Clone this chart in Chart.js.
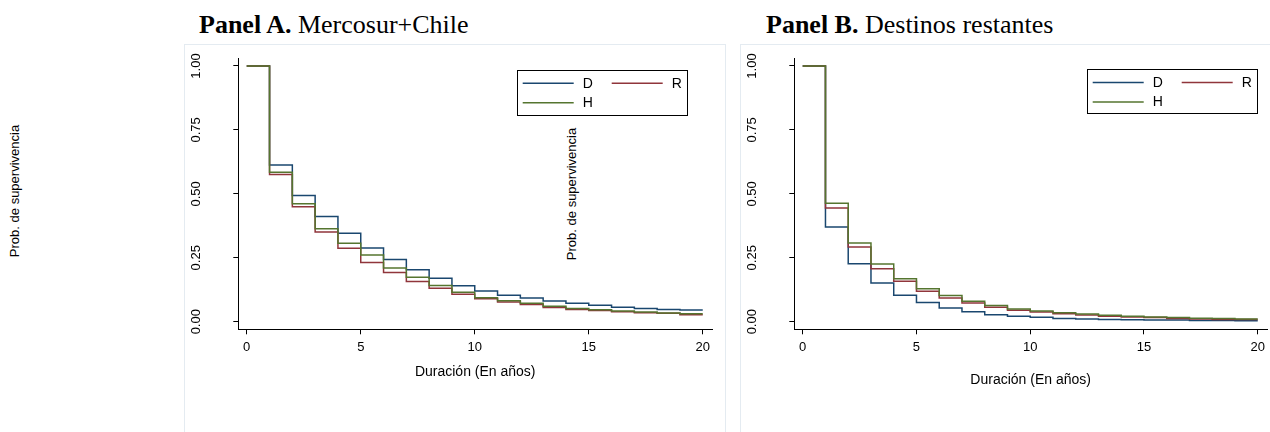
<!DOCTYPE html>
<html>
<head>
<meta charset="utf-8">
<script src="https://cdn.jsdelivr.net/npm/chart.js@4.4.1/dist/chart.umd.min.js"></script>
<style>
  html, body { margin: 0; padding: 0; background: #fff; width: 1270px; height: 432px; overflow: hidden; }
  .frame { position: absolute; border: 1px solid #e4ebf1; box-sizing: border-box; }
  canvas { position: absolute; }
  .ttl { position: absolute; font-family: "Liberation Serif", "Times New Roman", serif; font-size: 26px;
         line-height: 26px; white-space: nowrap; color: #000; }
  .ytitle { position: absolute; font-family: "Liberation Sans", Arial, sans-serif; font-size: 13px;
            line-height: 13px; white-space: nowrap; color: #000;
            transform: translate(-50%, -50%) rotate(-90deg); }
</style>
</head>
<body>
<div class="frame" style="left:184px;top:44px;width:542px;height:400px"></div>
<div class="frame" style="left:740px;top:44px;width:580px;height:400px"></div>

<div class="ttl" id="titleA" style="left:199px;top:12px"></div>
<div class="ttl" id="titleB" style="left:766px;top:12px"></div>

<div class="ytitle" id="ytitleA" style="left:14px;top:191px"></div>
<div class="ytitle" id="ytitleB" style="left:570.5px;top:193.5px"></div>

<canvas id="chartA" width="542" height="388" style="left:184px;top:44px;width:542px;height:388px"></canvas>
<canvas id="chartB" width="529" height="388" style="left:741px;top:44px;width:529px;height:388px"></canvas>

<script>
// Kaplan-Meier survival of export spells, by duration in years (0..20)
const durations = [0, 1, 2, 3, 4, 5, 6, 7, 8, 9, 10, 11, 12, 13, 14, 15, 16, 17, 18, 19, 20];

const seriesNames  = ['D', 'R', 'H'];
const seriesColors = ['#1a476f', '#90353b', '#55752f'];
const drawOrder    = [2, 1, 0];   // H painted last (on top)

// Panel A: Mercosur+Chile
const mercosurD = [1, 0.613, 0.494, 0.411, 0.346, 0.288, 0.243, 0.203, 0.170, 0.141, 0.120,
                   0.103, 0.093, 0.081, 0.072, 0.064, 0.057, 0.052, 0.048, 0.046, 0.046];
const mercosurR = [1, 0.576, 0.450, 0.351, 0.287, 0.232, 0.192, 0.157, 0.131, 0.107, 0.090,
                   0.077, 0.067, 0.056, 0.048, 0.044, 0.039, 0.035, 0.033, 0.027, 0.027];
const mercosurH = [1, 0.584, 0.461, 0.364, 0.307, 0.261, 0.210, 0.174, 0.142, 0.115, 0.094,
                   0.082, 0.072, 0.060, 0.052, 0.047, 0.042, 0.038, 0.034, 0.031, 0.031];

// Panel B: Destinos restantes
const restoD = [1, 0.370, 0.227, 0.151, 0.103, 0.075, 0.054, 0.039, 0.027, 0.021, 0.017,
                0.013, 0.011, 0.009, 0.008, 0.007, 0.007, 0.005, 0.005, 0.004, 0.004];
const restoR = [1, 0.445, 0.292, 0.207, 0.158, 0.119, 0.093, 0.073, 0.057, 0.045, 0.038,
                0.031, 0.026, 0.021, 0.018, 0.016, 0.013, 0.011, 0.009, 0.009, 0.009];
const restoH = [1, 0.463, 0.308, 0.226, 0.168, 0.129, 0.102, 0.080, 0.063, 0.050, 0.042,
                0.035, 0.030, 0.025, 0.021, 0.018, 0.016, 0.014, 0.013, 0.011, 0.011];

const xTickValues = [0, 5, 10, 15, 20];
const yTickValues = [0, 0.25, 0.5, 0.75, 1];
const yTickLabels = ['0.00', '0.25', '0.50', '0.75', '1.00'];

const xTitle = 'Duración (En años)';
const yTitle = 'Prob. de supervivencia';
const titleA = ['Panel A.', 'Mercosur+Chile'];
const titleB = ['Panel B.', 'Destinos restantes'];

// ---- page text ----
function setTitle(id, parts) {
  const el = document.getElementById(id);
  const b = document.createElement('b');
  b.textContent = parts[0];
  el.appendChild(b);
  el.appendChild(document.createTextNode(' ' + parts[1]));
}
setTitle('titleA', titleA);
setTitle('titleB', titleB);
document.getElementById('ytitleA').textContent = yTitle;
document.getElementById('ytitleB').textContent = yTitle;

// ---- chart setup ----
const SANS = "'Liberation Sans', Arial, sans-serif";
Chart.defaults.font.family = SANS;
Chart.defaults.color = '#000';

// y tick labels, written upright along the axis
const rotatedYLabels = {
  id: 'rotatedYLabels',
  afterDraw(chart) {
    const s = chart.scales.y, ctx = chart.ctx;
    ctx.save();
    ctx.fillStyle = '#000';
    ctx.font = '13px ' + SANS;
    ctx.textAlign = 'center';
    ctx.textBaseline = 'alphabetic';
    yTickValues.forEach((v, i) => {
      const py = s.getPixelForValue(v);
      ctx.save();
      ctx.translate(s.right - 38.3, py);
      ctx.rotate(-Math.PI / 2);
      ctx.fillText(yTickLabels[i], 0, 0);
      ctx.restore();
    });
    ctx.restore();
  }
};

// boxed two-column legend
const boxLegend = {
  id: 'boxLegend',
  afterDraw(chart, args, opts) {
    const ctx = chart.ctx;
    const x = opts.left, y = opts.top;
    ctx.save();
    ctx.strokeStyle = '#000';
    ctx.lineWidth = 1;
    ctx.strokeRect(Math.round(x) + 0.5, Math.round(y) + 0.5, opts.width, opts.height);
    ctx.font = '14px ' + SANS;
    ctx.textBaseline = 'middle';
    ctx.textAlign = 'left';
    chart.data.datasets.forEach((ds, i) => {
      const col = i % 2, row = Math.floor(i / 2);
      const lx = x + 6 + col * 89;
      const ly = y + 13.3 + row * 19.4;
      ctx.strokeStyle = ds.borderColor;
      ctx.lineWidth = 1.5;
      ctx.beginPath();
      ctx.moveTo(lx, ly);
      ctx.lineTo(lx + 51, ly);
      ctx.stroke();
      ctx.fillStyle = '#000';
      ctx.fillText(ds.label, lx + 60, ly + 0.5);
    });
    ctx.restore();
  }
};

function makeChart(id, values, yAxisWidth, rightPad, titleGap, legendPos) {
  const datasets = seriesNames.map((name, i) => ({
    label: name,
    data: durations.map((d, k) => ({ x: d, y: values[i][k] })),
    borderColor: seriesColors[i],
    backgroundColor: seriesColors[i],
    borderWidth: 1.5,
    pointRadius: 0,
    fill: false,
    stepped: 'before',
    order: drawOrder[i]
  }));
  const axisLook = {
    grid: { display: true, drawOnChartArea: false, drawTicks: true, tickLength: 5, color: '#000', lineWidth: 1 },
    border: { display: true, color: '#000', width: 1 }
  };
  return new Chart(document.getElementById(id), {
    type: 'line',
    data: { datasets },
    options: {
      responsive: false,
      animation: false,
      events: [],
      layout: { padding: { left: 0, top: 14.3, right: rightPad, bottom: 0 } },
      plugins: {
        legend: { display: false },
        tooltip: { enabled: false },
        boxLegend: legendPos
      },
      scales: {
        x: Object.assign({
          type: 'linear', min: -0.37, max: 20.41,
          afterBuildTicks: s => { s.ticks = xTickValues.map(v => ({ value: v })); },
          afterFit: s => { s.height = 102.7; },
          ticks: { font: { size: 13 }, color: '#000', padding: 5, maxRotation: 0, autoSkip: false,
                   callback: v => String(v) },
          title: { display: true, text: xTitle, font: { size: 14 }, color: '#000',
                   padding: { top: 0, bottom: titleGap } }
        }, axisLook),
        y: Object.assign({
          type: 'linear', min: -0.0297, max: 1.0301,
          afterBuildTicks: s => { s.ticks = yTickValues.map(v => ({ value: v })); },
          afterFit: s => { s.width = yAxisWidth; },
          ticks: { display: false }
        }, axisLook)
      }
    },
    plugins: [rotatedYLabels, boxLegend]
  });
}

makeChart('chartA', [mercosurD, mercosurR, mercosurH], 54.3, 13.9, 51.9,
          { left: 332.7, top: 26, width: 170, height: 45 });
makeChart('chartB', [restoD, restoR, restoH], 53.3, 1.9, 43.9,
          { left: 345.7, top: 25.3, width: 170, height: 44 });
</script>
</body>
</html>
